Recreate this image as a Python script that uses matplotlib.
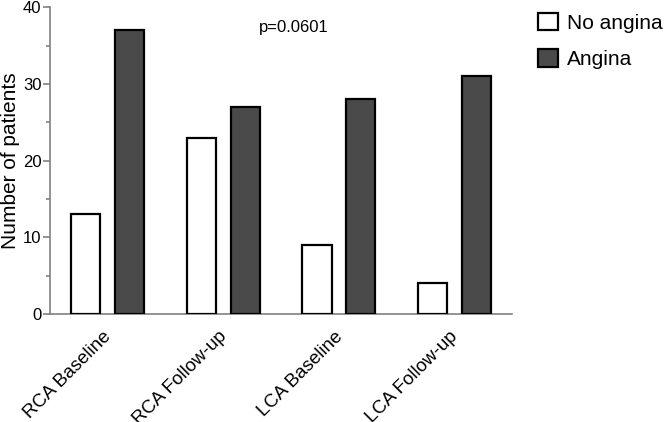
import matplotlib
matplotlib.use("Agg")
import matplotlib.pyplot as plt
import numpy as np
from matplotlib.patches import Patch
from matplotlib.ticker import MultipleLocator
from matplotlib.transforms import ScaledTranslation

plt.rcParams['font.family'] = ['Liberation Sans', 'DejaVu Sans']

categories = ["RCA Baseline", "RCA Follow-up", "LCA Baseline", "LCA Follow-up"]
no_angina = [13, 23, 9, 4]
angina = [37, 27, 28, 31]
series_labels = ["No angina", "Angina"]
p_text = "p=0.0601"

fig = plt.figure(figsize=(6.66, 4.22), dpi=100)
ax = fig.add_axes([0.075, 0.256, 0.694, 0.727])

x = np.arange(len(categories))
w = 0.252
off = 0.189
ax.bar(x - off, no_angina, w, color="white", edgecolor="black", linewidth=1.6, zorder=3)
ax.bar(x + off, angina, w, color="#4a4a4a", edgecolor="black", linewidth=1.6, zorder=3)

ax.set_xlim(-0.5, 3.5)
ax.set_ylim(0, 40)
ax.yaxis.set_major_locator(MultipleLocator(10))
ax.yaxis.set_minor_locator(MultipleLocator(5))
for s in ["top", "right"]:
    ax.spines[s].set_visible(False)
for s in ["left", "bottom"]:
    ax.spines[s].set_color("#808080")
    ax.spines[s].set_linewidth(1.2)
ax.tick_params(axis="y", which="major", length=5, width=1.2, color="#808080", labelsize=12, pad=1)
ax.tick_params(axis="y", which="minor", length=3, width=1.2, color="#808080")
ax.tick_params(axis="x", length=0, labelsize=13.5, pad=10)
ax.set_xticks(x)
ax.set_xticklabels(categories, rotation=45, ha="right", rotation_mode="default")
shift = ScaledTranslation(7 / 100, 0, fig.dpi_scale_trans)
for lbl in ax.get_xticklabels():
    lbl.set_transform(lbl.get_transform() + shift)
ax.set_ylabel("Number of patients", fontsize=15)
ax.yaxis.set_label_coords(-0.064, 0.5)

ax.text(1.61, 37.3, p_text, fontsize=12, ha="center", va="center")

handles = [Patch(facecolor="white", edgecolor="black", linewidth=1.6),
           Patch(facecolor="#4a4a4a", edgecolor="black", linewidth=1.6)]
fig.legend(handles, series_labels, loc="upper left", bbox_to_anchor=(0.789, 1.0),
           frameon=False, fontsize=15, handlelength=0.95, handleheight=0.95,
           handletextpad=0.45, labelspacing=0.8, borderaxespad=0.2)

fig.savefig("out.png", dpi=100)
